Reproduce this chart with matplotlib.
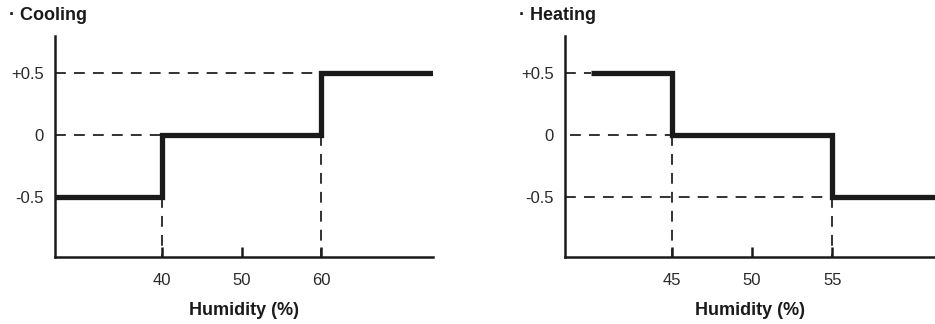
import matplotlib
matplotlib.use("Agg")
import matplotlib.pyplot as plt

plt.rcParams['font.family'] = ['Liberation Sans', 'DejaVu Sans']

# Data
cool_edges = [26.6, 40, 60, 74.0]
cool_levels = [-0.5, 0, 0.5]
cool_xticks = [40, 50, 60]

heat_edges = [40, 45, 55, 61.4]
heat_levels = [0.5, 0, -0.5]
heat_xticks = [45, 50, 55]

yticks = [-0.5, 0, 0.5]
ytick_labels = ['-0.5', '0', '+0.5']

fig = plt.figure(figsize=(9.35, 3.24), dpi=100)

INK = '#1a1a1a'
dash_kw = dict(color='#222222', lw=1.3, dashes=(6, 4.5))

def setup(ax, xmin, xmax, xticks):
    ax.set_xlim(xmin, xmax)
    ax.set_ylim(-0.984, 0.8)
    for s in ['top', 'right']:
        ax.spines[s].set_visible(False)
    for s in ['left', 'bottom']:
        ax.spines[s].set_linewidth(1.8)
        ax.spines[s].set_color(INK)
    ax.set_xticks(xticks)
    ax.set_xticklabels([str(t) for t in xticks])
    ax.set_yticks(yticks)
    ax.set_yticklabels(ytick_labels)
    ax.tick_params(axis='x', direction='in', length=7, width=1.8, color=INK,
                   pad=11.5, labelsize=12, labelcolor='#2a2a2a')
    ax.tick_params(axis='y', length=0, pad=8, labelsize=12, labelcolor='#2a2a2a')
    ax.set_xlabel('Humidity (%)', fontsize=13, fontweight='bold', labelpad=10,
                  color=INK)
    ax.set_facecolor('none')

# Cooling
ax1 = fig.add_axes([55/935, 67/324, (433-55)/935, (257-36)/324])
setup(ax1, cool_edges[0], cool_edges[-1], cool_xticks)
ymin = ax1.get_ylim()[0]
ax1.plot([cool_edges[0], cool_edges[2]], [cool_levels[2]]*2, **dash_kw)
ax1.plot([cool_edges[0], cool_edges[1]], [cool_levels[1]]*2, **dash_kw)
ax1.plot([cool_edges[1]]*2, [cool_levels[0], ymin], **dash_kw)
ax1.plot([cool_edges[2]]*2, [cool_levels[1], ymin], **dash_kw)
ax1.stairs(cool_levels, cool_edges, color=INK, lw=3.8, baseline=None, zorder=5)

# Heating
ax2 = fig.add_axes([565/935, 67/324, (935-565)/935, (257-36)/324])
setup(ax2, 38.36, heat_edges[-1], heat_xticks)
xmin2 = ax2.get_xlim()[0]
ax2.plot([xmin2, heat_edges[0]], [heat_levels[0]]*2, **dash_kw)
ax2.plot([xmin2 + 0.3, heat_edges[1]], [heat_levels[1]]*2, **dash_kw)
ax2.plot([xmin2, heat_edges[2]], [heat_levels[2]]*2, **dash_kw)
ax2.plot([heat_edges[1]]*2, [heat_levels[1], ymin], **dash_kw)
ax2.plot([heat_edges[2]]*2, [heat_levels[2], ymin], **dash_kw)
ax2.stairs(heat_levels, heat_edges, color=INK, lw=3.8, baseline=None, zorder=5)

fig.text(9/935, 1 - 15/324, '· Cooling', fontsize=13, fontweight='bold',
         va='center', ha='left', color=INK)
fig.text(519/935, 1 - 15/324, '· Heating', fontsize=13, fontweight='bold',
         va='center', ha='left', color=INK)

fig.savefig('out.png', dpi=100)
